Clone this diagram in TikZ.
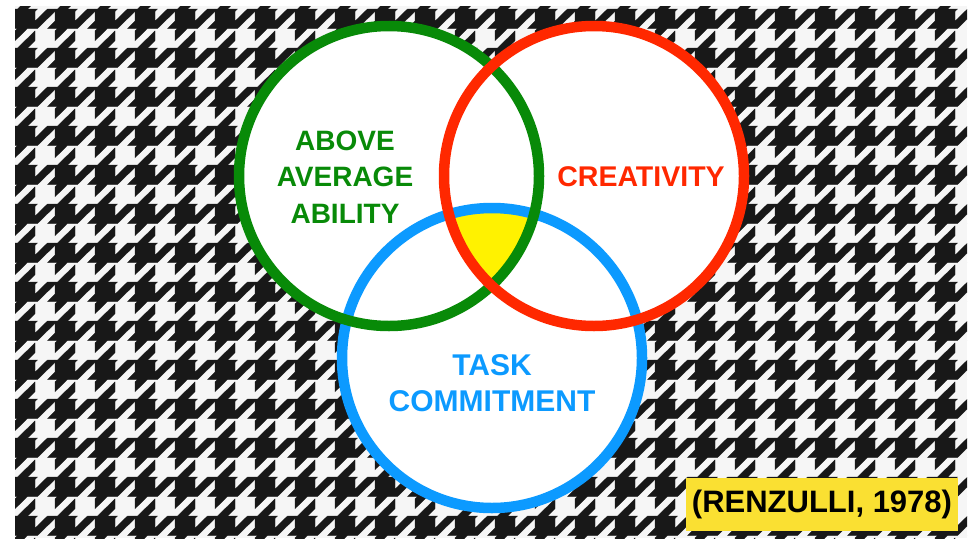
\documentclass[tikz,border=0pt]{standalone}
\usepackage{fontspec}
\setmainfont{Liberation Sans}

\definecolor{cloth}{RGB}{24,24,24}
\definecolor{clothlight}{RGB}{246,246,246}
\definecolor{abilitygreen}{RGB}{8,138,8}
\definecolor{creativered}{RGB}{255,40,0}
\definecolor{taskblue}{RGB}{12,154,255}
\definecolor{yearyellow}{RGB}{250,224,50}

\begin{document}
\begin{tikzpicture}[x=1pt,y=-1pt,
    ring/.style={line width=10.5pt},
    tag/.style={font=\bfseries\fontsize{#1}{36.5}\selectfont, align=center},
  ]
  \useasboundingbox (0,0) rectangle (976,538);

  % houndstooth cloth, one tooth per tile
  \def\tw{40}
  \def\th{39}
  \def\xo{15}
  \def\yo{48}
  \pgfmathsetmacro{\ux}{\tw/8}
  \pgfmathsetmacro{\uy}{\th/8}
  \fill[clothlight] (15,6) rectangle (967,538);
  \begin{scope}
    \clip (15,6) rectangle (967,538);
    \foreach \i in {-1,...,24}{
      \foreach \j in {-2,...,13}{
        \begin{scope}[shift={(\xo+\i*\tw,\yo+\j*\th)}, x=\ux pt, y=-\uy pt]
          \filldraw[cloth, line width=0.3pt]
            (0,0) -- (0.5,0) -- (4,-3.5) -- (4,-1.5) -- (2.5,0) -- (4.5,0)
            -- (4,0.5) -- (4,2.5) -- (6.5,0) -- (8,0) -- (8,0.5) -- (4.5,4)
            -- (2.5,4) -- (0,6.5) -- (0,4.5) -- (0.5,4) -- (-1.5,4) -- (0,2.5) -- cycle;
        \end{scope}
      }
    }
  \end{scope}

  % the three circles
  \def\rad{150}
  \coordinate (ability) at (389,176);
  \coordinate (creativity) at (594,176);
  \coordinate (task) at (492,358);

  \fill[white] (ability) circle[radius=\rad];
  \fill[white] (creativity) circle[radius=\rad];
  \fill[white] (task) circle[radius=\rad];

  % where all three meet
  \begin{scope}
    \clip (ability) circle[radius=\rad];
    \clip (creativity) circle[radius=\rad];
    \fill[yellow] (task) circle[radius=\rad];
  \end{scope}

  \draw[ring, taskblue] (task) circle[radius=\rad];
  \draw[ring, abilitygreen] (ability) circle[radius=\rad];
  \draw[ring, creativered] (creativity) circle[radius=\rad];

  % labels
  \node[tag=28, abilitygreen] (abilitytext) at (345,177) {ABOVE\\AVERAGE\\ABILITY};
  \node[tag=28.5, creativered] (creativitytext) at (641,177) {CREATIVITY};
  \node[tag=30, taskblue] (tasktext) at (492,383) {TASK\\COMMITMENT};

  % citation
  \node[fill=yearyellow, minimum width=272pt, minimum height=53pt,
        font=\bfseries\fontsize{31}{36}\selectfont] (cite) at (822,504.5) {(RENZULLI, 1978)};

\end{tikzpicture}
\end{document}
